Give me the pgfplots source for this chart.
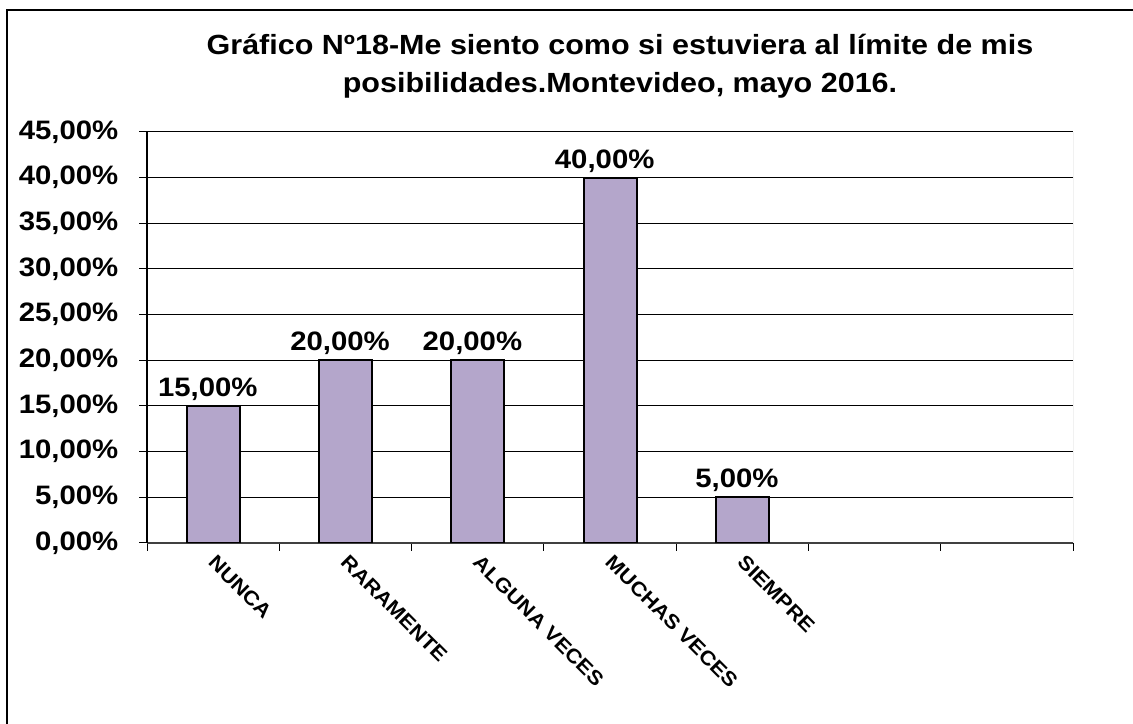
\documentclass[border=0pt]{standalone}
\usepackage{pgfplots}
\pgfplotsset{compat=1.18}
\usepackage{graphicx}
\usepackage{fontspec}
\setmainfont{Liberation Sans}
\definecolor{barfill}{RGB}{180,166,203}
% the reference text is slightly wider than Arial
\newcommand\wide[1]{\scalebox{1.1}[1]{#1}}

\begin{document}
\begin{tikzpicture}
% 1 px of the reference = 0.75pt
\path[use as bounding box] (0,0) rectangle (849.75pt,543pt);
\draw[line width=1.2pt] (5.25pt,0) -- (5.25pt,535.5pt) -- (849.75pt,535.5pt);

\node[align=center, font=\bfseries\fontsize{20.8}{28.5}\selectfont]
  at (465pt,493.5pt) {\wide{Gráfico Nº18-Me siento como si estuviera al límite de mis}\\\wide{posibilidades.Montevideo, mayo 2016.}};

\begin{axis}[
    at={(110.25pt,135.75pt)}, anchor=south west,
    scale only axis,
    width=694.5pt, height=308.25pt,
    ybar, bar width=39.75pt,
    xmin=-0.5, xmax=6.5,
    ymin=0, ymax=45,
    ytick={0,5,...,45},
    xtick={-0.5,0.5,...,6.5},
    xticklabels={},
    extra x ticks={0,1,2,3,4},
    extra x tick labels={\wide{NUNCA},\wide{RARAMENTE},\wide{ALGUNA VECES},\wide{MUCHAS VECES},\wide{SIEMPRE}},
    extra x tick style={major tick length=0pt, grid=none,
        xticklabel style={anchor=north west, inner sep=0pt, xshift=3pt, yshift=-8pt, rotate=-45,
            font=\bfseries\fontsize{15}{15}\selectfont}},
    tick align=outside,
    major tick length=6pt,
    tick style={black, line width=0.75pt},
    axis x line*=bottom, axis y line*=left,
    x axis line style={black!75, line width=0.9pt},
    y axis line style={black, line width=0.9pt},
    ymajorgrids,
    grid style={black, line width=0.75pt},
    /pgf/number format/assume math mode=true,
    yticklabel={\wide{\pgfmathprintnumber[fixed,fixed zerofill,precision=2,use comma]{\tick}\%}},
    yticklabel style={font=\bfseries\fontsize{20}{20}\selectfont, xshift=-12pt},
    nodes near coords={\wide{\pgfmathprintnumber[fixed,fixed zerofill,precision=2,use comma]{\pgfplotspointmeta}\%}},
    nodes near coords style={font=\bfseries\fontsize{20}{20}\selectfont, black, xshift=-4pt},
]
\addplot[fill=barfill, draw=black, line width=1.5pt] coordinates {
    (0,15) (1,20) (2,20) (3,40) (4,5)
};
\draw[black!45, line width=0.75pt] (rel axis cs:1,0) -- (rel axis cs:1,1);
\end{axis}
\end{tikzpicture}
\end{document}
